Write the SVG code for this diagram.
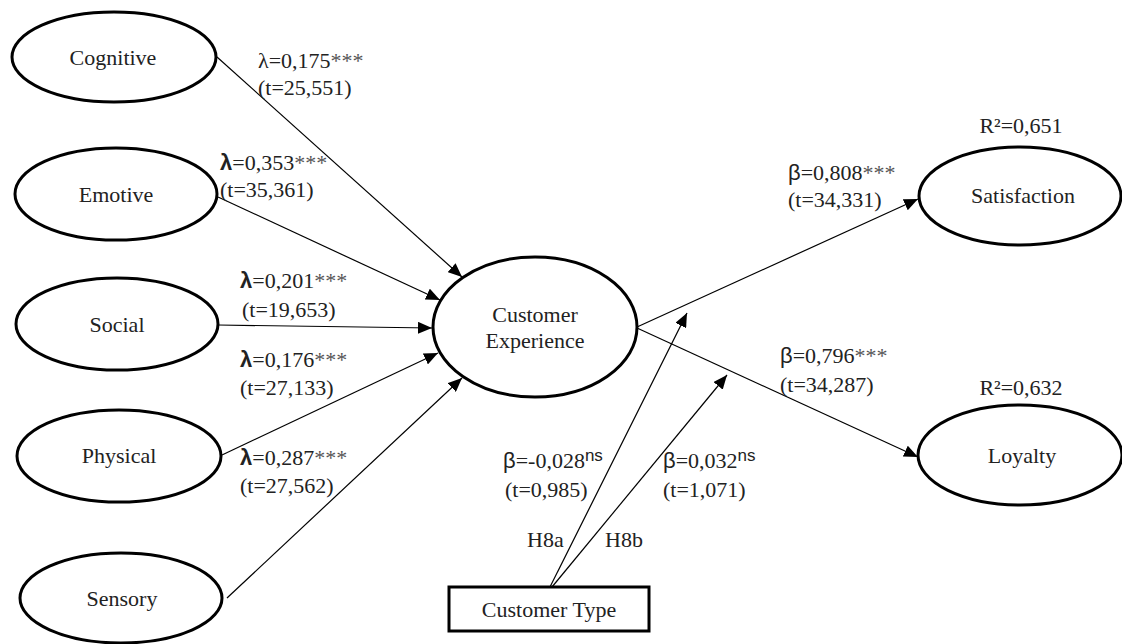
<svg xmlns="http://www.w3.org/2000/svg" width="1122" height="644" viewBox="0 0 1122 644">
<style>
.node{fill:#fff;stroke:#000;stroke-width:3}
.lbl{font-size:22px;fill:#222}
.nt{font-size:22px;fill:#222;text-anchor:middle}
.b{font-weight:bold}
.ast{fill:#555}
.ns{font-size:17px}
.conn line{stroke:#000;stroke-width:1.2;marker-end:url(#arr)}
</style>
<defs>
<marker id="arr" markerUnits="userSpaceOnUse" markerWidth="14" markerHeight="12" refX="14" refY="6" orient="auto">
<path d="M0,0 L14,6 L0,12 z" fill="#000"/>
</marker>
</defs>
<rect width="1122" height="644" fill="#fff"/>
<g id="connectors" class="conn">
<line x1="217" y1="57" x2="462" y2="277"/>
<line x1="218" y1="197" x2="440" y2="300"/>
<line x1="218" y1="325" x2="432" y2="328"/>
<line x1="222" y1="455" x2="438" y2="353"/>
<line x1="227" y1="598" x2="462" y2="378"/>
<line x1="637" y1="327" x2="918" y2="199"/>
<line x1="637" y1="328" x2="918" y2="457"/>
<line x1="550" y1="587" x2="687" y2="313"/>
<line x1="552" y1="587" x2="727" y2="375"/>
</g>
<g font-family="'Liberation Serif', 'DejaVu Serif', serif">
<g id="cognitive"><ellipse class="node" cx="114" cy="57" rx="102" ry="45"/><text class="nt" x="113" y="65">Cognitive</text></g>
<g id="emotive"><ellipse class="node" cx="116" cy="194" rx="101" ry="46"/><text class="nt" x="116" y="202">Emotive</text></g>
<g id="social"><ellipse class="node" cx="117" cy="324" rx="101" ry="46"/><text class="nt" x="117" y="332">Social</text></g>
<g id="physical"><ellipse class="node" cx="119" cy="456" rx="102" ry="46"/><text class="nt" x="119" y="463">Physical</text></g>
<g id="sensory"><ellipse class="node" cx="121" cy="598" rx="101" ry="45"/><text class="nt" x="122" y="606">Sensory</text></g>
<g id="customer-experience"><ellipse class="node" cx="535" cy="327" rx="102" ry="70"/><text class="nt" x="535" y="322">Customer</text><text class="nt" x="535" y="348">Experience</text></g>
<g id="satisfaction"><ellipse class="node" cx="1020" cy="196" rx="101" ry="49"/><text class="nt" x="1023" y="203">Satisfaction</text></g>
<g id="loyalty"><ellipse class="node" cx="1020" cy="455" rx="102" ry="50"/><text class="nt" x="1022" y="463">Loyalty</text></g>
<g id="customer-type"><rect class="node" x="449" y="587" width="200" height="44"/><text class="nt" x="549" y="617">Customer Type</text></g>
<g id="labels">
<text class="lbl" x="258" y="68">λ=0,175<tspan class="ast">***</tspan></text>
<text class="lbl" x="258" y="95">(t=25,551)</text>
<text class="lbl" x="220" y="170"><tspan font-family="'Liberation Sans', Arial, sans-serif" class="b">λ</tspan>=0,353<tspan class="ast">***</tspan></text>
<text class="lbl" x="220" y="197">(t=35,361)</text>
<text class="lbl" x="240" y="288"><tspan font-family="'Liberation Sans', Arial, sans-serif" class="b">λ</tspan>=0,201<tspan class="ast">***</tspan></text>
<text class="lbl" x="242" y="317">(t=19,653)</text>
<text class="lbl" x="240" y="367"><tspan font-family="'Liberation Sans', Arial, sans-serif" class="b">λ</tspan>=0,176<tspan class="ast">***</tspan></text>
<text class="lbl" x="240" y="395">(t=27,133)</text>
<text class="lbl" x="240" y="465"><tspan font-family="'Liberation Sans', Arial, sans-serif" class="b">λ</tspan>=0,287<tspan class="ast">***</tspan></text>
<text class="lbl" x="240" y="493">(t=27,562)</text>
<text class="lbl" x="788" y="180"><tspan font-family="'Liberation Sans', Arial, sans-serif">β</tspan>=0,808<tspan class="ast">***</tspan></text>
<text class="lbl" x="788" y="207">(t=34,331)</text>
<text class="lbl" x="780" y="363"><tspan font-family="'Liberation Sans', Arial, sans-serif">β</tspan>=0,796<tspan class="ast">***</tspan></text>
<text class="lbl" x="780" y="392">(t=34,287)</text>
<text class="nt" x="1021" y="133">R²=0,651</text>
<text class="nt" x="1021" y="395">R²=0,632</text>
<text class="lbl" x="503" y="468"><tspan font-family="'Liberation Sans', Arial, sans-serif">β</tspan>=-0,028<tspan font-family="'Liberation Sans', Arial, sans-serif" class="ns" dy="-7">ns</tspan></text>
<text class="lbl" x="505" y="497">(t=0,985)</text>
<text class="lbl" x="663" y="468"><tspan font-family="'Liberation Sans', Arial, sans-serif">β</tspan>=0,032<tspan font-family="'Liberation Sans', Arial, sans-serif" class="ns" dy="-7">ns</tspan></text>
<text class="lbl" x="663" y="497">(t=1,071)</text>
<text class="lbl" x="527" y="547">H8a</text>
<text class="lbl" x="605" y="547">H8b</text>
</g>
</g>
</svg>
